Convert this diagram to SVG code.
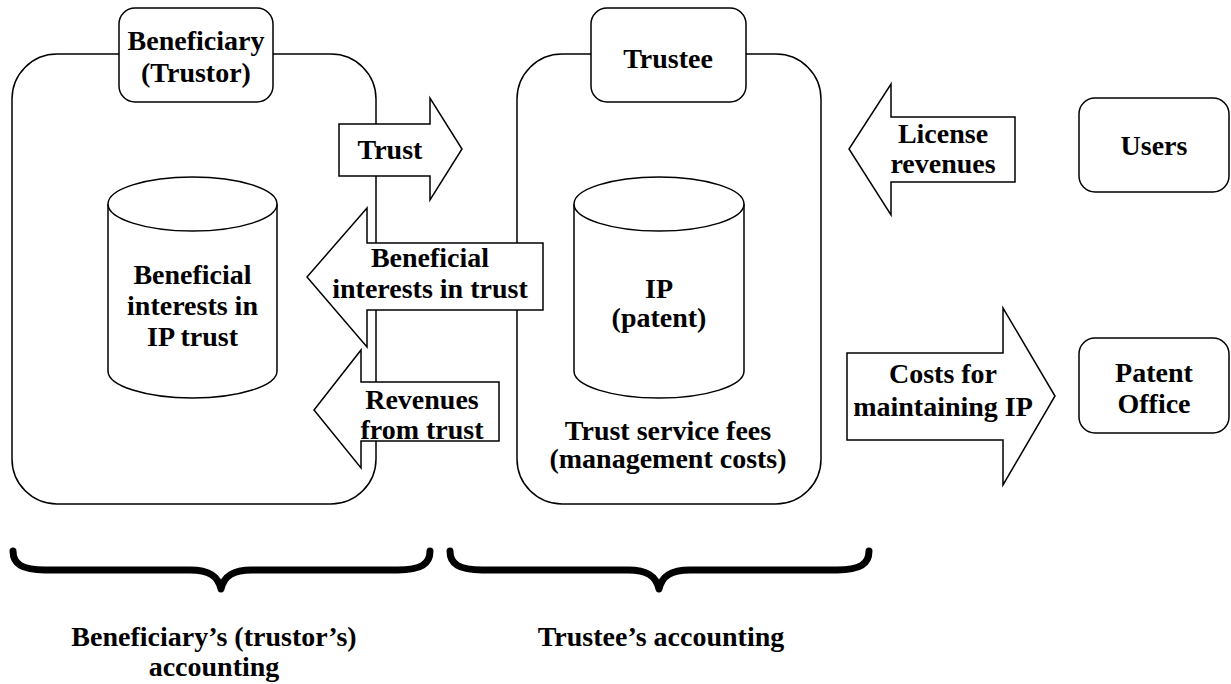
<svg xmlns="http://www.w3.org/2000/svg" width="1231" height="684" viewBox="0 0 1231 684">
<style>
.box{fill:#fff;stroke:#000;stroke-width:1.5}
.arrow{fill:#fff;stroke:#000;stroke-width:1.5;stroke-linejoin:miter}
.brace{fill:none;stroke:#000;stroke-width:7;stroke-linecap:round;stroke-linejoin:round}
text{font-weight:bold;font-size:28px;text-anchor:middle;fill:#000}
</style>
<rect width="1231" height="684" fill="#fff"/>
<g font-family="Liberation Serif, DejaVu Serif, Noto Serif, Times New Roman, Times, serif">
<g id="beneficiary-area">
  <rect class="box" x="12" y="54" width="364" height="450" rx="45"/>
</g>
<g id="trustee-area">
  <rect class="box" x="517" y="54" width="304" height="450" rx="45"/>
  <text x="668" y="440">Trust service fees</text>
  <text x="668" y="468">(management costs)</text>
</g>
<g id="beneficial-cylinder">
  <path class="box" d="M108,204 L108,371 A84.5,27 0 0 0 277,371 L277,204"/>
  <ellipse class="box" cx="192.5" cy="204" rx="84.5" ry="27"/>
  <text x="192.5" y="284">Beneficial</text>
  <text x="192.5" y="315">interests in</text>
  <text x="192.5" y="346">IP trust</text>
</g>
<g id="ip-cylinder">
  <path class="box" d="M574,204 L574,371 A85,27 0 0 0 744,371 L744,204"/>
  <ellipse class="box" cx="659" cy="204" rx="85" ry="27"/>
  <text x="659" y="298">IP</text>
  <text x="659" y="327">(patent)</text>
</g>
<g id="connectors">
  <g id="arrow-trust">
    <polygon class="arrow" points="339,124 430,124 430,98 462,149 430,200 430,176 339,176"/>
    <text x="390" y="159">Trust</text>
  </g>
  <g id="arrow-beneficial">
    <polygon class="arrow" points="543,243 367,243 367,208 307,277 367,347 367,310 543,310"/>
    <text x="430" y="267">Beneficial</text>
    <text x="430" y="298">interests in trust</text>
  </g>
  <g id="arrow-revenues">
    <polygon class="arrow" points="499,382 361,382 361,350 314,410 361,468 361,441 499,441"/>
    <text x="422" y="409">Revenues</text>
    <text x="422" y="439">from trust</text>
  </g>
  <g id="arrow-license">
    <polygon class="arrow" points="1015,117 891,117 891,84 849,149 891,215 891,182 1015,182"/>
    <text x="943" y="143">License</text>
    <text x="943" y="173">revenues</text>
  </g>
  <g id="arrow-costs">
    <polygon class="arrow" points="847,353 1003,353 1003,308 1055,396 1003,485 1003,440 847,440"/>
    <text x="943" y="383">Costs for</text>
    <text x="943" y="416">maintaining IP</text>
  </g>
</g>
<g id="beneficiary-label">
  <rect class="box" x="119" y="8" width="154" height="94" rx="16"/>
  <text x="196" y="50">Beneficiary</text>
  <text x="196" y="82">(Trustor)</text>
</g>
<g id="trustee-label">
  <rect class="box" x="591" y="8" width="155" height="94" rx="16"/>
  <text x="668" y="68">Trustee</text>
</g>
<g id="users">
  <rect class="box" x="1079" y="98" width="150" height="94" rx="16"/>
  <text x="1154" y="155">Users</text>
</g>
<g id="patent-office">
  <rect class="box" x="1079" y="338" width="150" height="95" rx="16"/>
  <text x="1154" y="382">Patent</text>
  <text x="1154" y="413">Office</text>
</g>
<g id="brace-beneficiary">
  <path class="brace" d="M13,551 C13,564 22,570 45,570 L190,570 C209,570 218,576 221,589 C224,576 233,570 252,570 L398,570 C421,570 430,564 430,551"/>
  <text x="214" y="646">Beneficiary’s (trustor’s)</text>
  <text x="214" y="676">accounting</text>
</g>
<g id="brace-trustee">
  <path class="brace" d="M450,551 C450,564 459,570 482,570 L628,570 C647,570 656,576 659,589 C662,576 671,570 690,570 L837,570 C860,570 869,564 869,551"/>
  <text x="661" y="646">Trustee’s accounting</text>
</g>
</g>
</svg>
